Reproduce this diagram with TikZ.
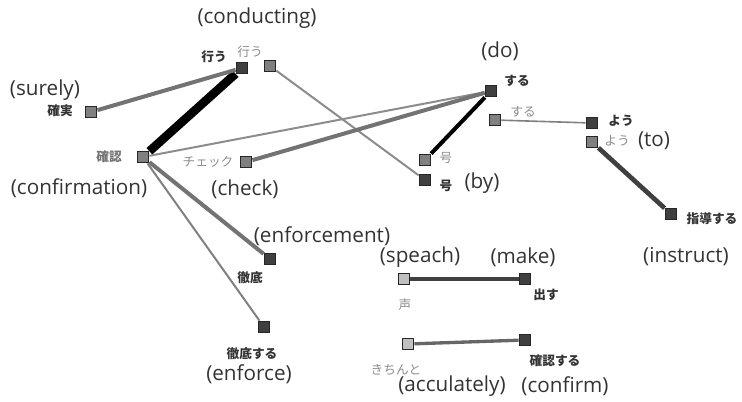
\documentclass[tikz,border=0pt]{standalone}
\usepackage{fontspec}
\setmainfont{Open Sans}
\newfontfamily\jp{Noto Sans CJK JP}
\begin{document}
\begin{tikzpicture}[x=0.75pt, y=-0.75pt,
    wbox/.style={draw=black!85, line width=1.1pt, minimum size=8.5pt, inner sep=0pt},
    darkw/.style={wbox, fill=black!75},
    midw/.style={wbox, fill=black!50},
    palew/.style={wbox, fill=black!25},
    jdark/.style={font=\jp\bfseries\fontsize{9.5}{10}\selectfont, text=black!80},
    jlight/.style={font=\jp\fontsize{9.5}{10}\selectfont, text=black!45},
    gloss/.style={font=\fontsize{15.5}{17}\selectfont, text=black!80}]
    \useasboundingbox (0,0) rectangle (742,401);

    % word nodes
    \node[darkw] (okonau) at (242,68) {};
    \node[midw] (okonau2) at (270,66) {};
    \node[midw] (kakujitsu) at (91,112) {};
    \node[midw] (kakunin) at (143,157) {};
    \node[midw] (check) at (246,162) {};
    \node[darkw] (suru) at (491,91) {};
    \node[midw] (suru2) at (495,120) {};
    \node[midw] (go2) at (425,160) {};
    \node[darkw] (go) at (425,180) {};
    \node[darkw] (you) at (592,123) {};
    \node[midw] (you2) at (592,142) {};
    \node[darkw] (shidou) at (671,214) {};
    \node[darkw] (tettei) at (270,259) {};
    \node[darkw] (tetteisuru) at (264,327) {};
    \node[palew] (koe) at (404,279) {};
    \node[darkw] (dasu) at (525,279) {};
    \node[palew] (kichinto) at (408,344) {};
    \node[darkw] (kakuninsuru) at (525,340) {};

    % links
    \draw[black, line width=6.5pt] (kakunin) -- (okonau);
    \draw[black!55, line width=3pt] (kakujitsu) -- (okonau);
    \draw[black!45, line width=1.5pt] (okonau2) -- (go);
    \draw[black!45, line width=1.5pt] (kakunin) -- (suru);
    \draw[black!55, line width=3pt] (check) -- (suru);
    \draw[black, line width=3pt] (go2) -- (suru);
    \draw[black!50, line width=1.2pt] (suru2) -- (you);
    \draw[black!75, line width=3.5pt] (you2) -- (shidou);
    \draw[black!55, line width=3pt] (kakunin) -- (tettei);
    \draw[black!50, line width=1.5pt] (kakunin) -- (tetteisuru);
    \draw[black!75, line width=3pt] (koe) -- (dasu);
    \draw[black!60, line width=2.5pt] (kichinto) -- (kakuninsuru);

    % japanese labels
    \node[jdark] (lokonau) at (214,57) {行う};
    \node[jlight] (lokonau2) at (250,52) {行う};
    \node[jdark] (lkakujitsu) at (60,111) {確実};
    \node[jdark, text=black!55] (lkakunin) at (109,157) {確認};
    \node[jlight] (lcheck) at (208,162) {チェック};
    \node[jdark] (lsuru) at (517,81) {する};
    \node[jlight] (lsuru2) at (523,112) {する};
    \node[jlight] (lgo2) at (446,158) {号};
    \node[jdark] (lgo) at (446,186) {号};
    \node[jdark] (lyou) at (621,121) {よう};
    \node[jlight] (lyou2) at (617,141) {よう};
    \node[jdark] (lshidou) at (712,219) {指導する};
    \node[jdark] (ltettei) at (250,278) {徹底};
    \node[jdark] (ltetteisuru) at (252,354) {徹底する};
    \node[jlight] (lkoe) at (405,305) {声};
    \node[jdark] (ldasu) at (546,295) {出す};
    \node[jlight] (lkichinto) at (396,370) {きちんと};
    \node[jdark] (lkakuninsuru) at (555,361) {確認する};

    % english glosses
    \node[gloss] (gokonau) at (257,18) {(conducting)};
    \node[gloss] (gkakujitsu) at (45,90) {(surely)};
    \node[gloss] (gkakunin) at (79,188) {(confirmation)};
    \node[gloss] (gcheck) at (245,189) {(check)};
    \node[gloss] (gsuru) at (500,51) {(do)};
    \node[gloss] (ggo) at (482,183) {(by)};
    \node[gloss] (gyou) at (654,141) {(to)};
    \node[gloss] (gshidou) at (686,257) {(instruct)};
    \node[gloss] (gtettei) at (322,236) {(enforcement)};
    \node[gloss] (gtetteisuru) at (249,374) {(enforce)};
    \node[gloss] (gkoe) at (420,257) {(speach)};
    \node[gloss] (gdasu) at (523,257) {(make)};
    \node[gloss] (gkichinto) at (452,386) {(acculately)};
    \node[gloss] (gkakuninsuru) at (565,386) {(confirm)};
\end{tikzpicture}
\end{document}
